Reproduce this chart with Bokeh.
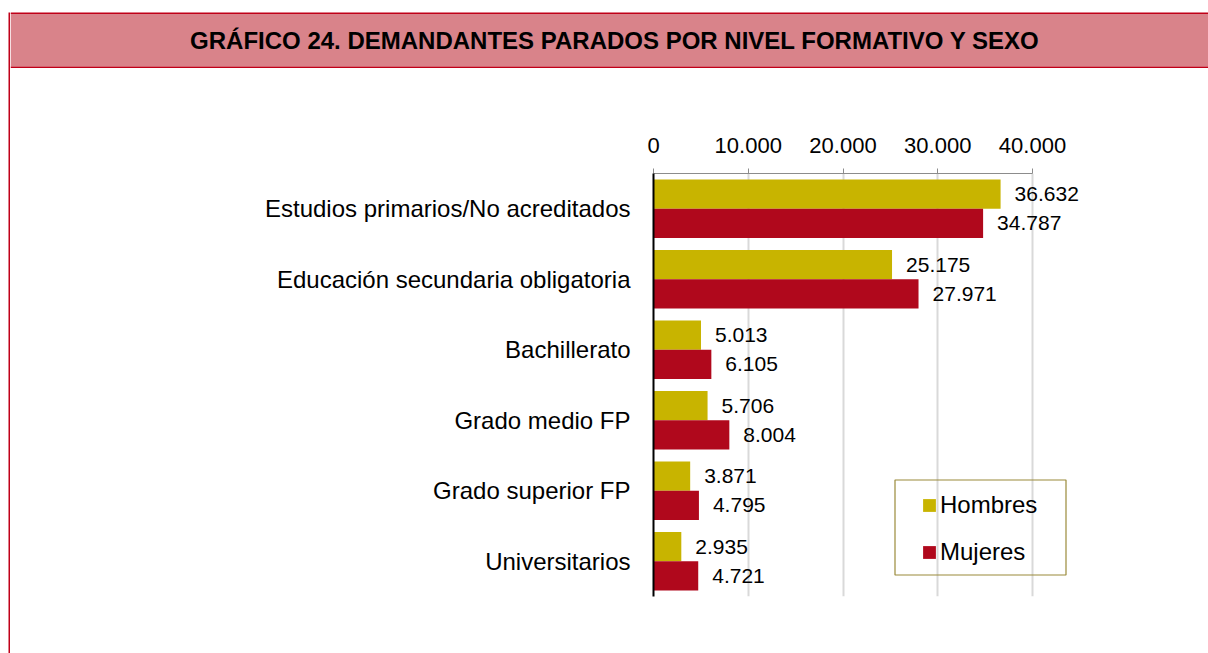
from bokeh.plotting import figure
from bokeh.layouts import column, row
from bokeh.models import (FactorRange, Range1d, FixedTicker, BoxAnnotation,
                          Legend, LegendItem, ColumnDataSource)
from bokeh.transform import dodge
from bokeh.embed import file_html
from bokeh.resources import INLINE
from bokeh.core.properties import value

TITLE = "GRÁFICO 24. DEMANDANTES PARADOS POR NIVEL FORMATIVO Y SEXO"
categories = ["Estudios primarios/No acreditados", "Educación secundaria obligatoria",
              "Bachillerato", "Grado medio FP", "Grado superior FP", "Universitarios"]
hombres = [36632, 25175, 5013, 5706, 3871, 2935]
mujeres = [34787, 27971, 6105, 8004, 4795, 4721]
series_names = ["Hombres", "Mujeres"]
x_ticks = [0, 10000, 20000, 30000, 40000]
x_tick_labels = ["0", "10.000", "20.000", "30.000", "40.000"]

YELLOW = "#c8b400"
RED = "#b0081c"
BAND = "#d9838a"
BORDER = "#c00018"
FONT = "Liberation Sans"

PAGE_W, PAGE_H = 1208, 653
STRIP_W = 10                   # white gap (8) + red border (2)
TITLE_H = 68
CHART_H = PAGE_H - TITLE_H
CHART_W = PAGE_W - STRIP_W
X0 = STRIP_W                   # page x of title / chart figures
Y0 = TITLE_H                   # page y of chart figure

frame_left = 653 - X0
frame_top = 173 - Y0
frame_bottom = 596 - Y0


def fmt(v):
    return f"{v:,}".replace(",", ".")


def bare(w, h, xr, yr):
    f = figure(width=w, height=h, x_range=xr, y_range=yr, min_border=0,
               x_axis_location=None, y_axis_location=None,
               output_backend="svg", toolbar_location=None)
    f.outline_line_color = None
    f.grid.visible = False
    return f


# ---------------- left strip (frame border) ----------------
s = bare(STRIP_W, PAGE_H, Range1d(0, STRIP_W), Range1d(PAGE_H, 0))
s.quad(left=8, right=10, top=12, bottom=PAGE_H, fill_color=BORDER, line_color=None)

# ---------------- title band ----------------
t = bare(CHART_W, TITLE_H, Range1d(0, CHART_W), Range1d(TITLE_H, 0))
t.quad(left=0, right=CHART_W, top=13, bottom=66, fill_color=BAND, line_color=None)
t.quad(left=0, right=CHART_W, top=12, bottom=13.5, fill_color=BORDER, line_color=None)
t.quad(left=0, right=CHART_W, top=66, bottom=68, fill_color=BORDER, line_color=None)
t.text(x=[614.5 - X0], y=[40.3], text=[TITLE], text_align="center", text_baseline="middle",
       text_font=value(FONT), text_font_style="bold", text_font_size="24px",
       text_color="#000000")

# ---------------- chart ----------------
src = ColumnDataSource(dict(cat=categories, h=hombres, m=mujeres,
                            hl=[fmt(v) for v in hombres], ml=[fmt(v) for v in mujeres]))

px_per_unit = (1032 - 653) / 40000.0
x_end = (CHART_W - frame_left) / px_per_unit

p = figure(width=CHART_W, height=CHART_H,
           y_range=FactorRange(factors=categories[::-1]),
           x_range=Range1d(0, x_end), x_axis_location="above",
           output_backend="svg", toolbar_location=None,
           min_border_left=frame_left, min_border_right=0,
           min_border_top=frame_top, min_border_bottom=CHART_H - frame_bottom)
p.outline_line_color = None
p.background_fill_color = "white"
p.border_fill_color = "white"

off = 0.207
bh = 0.415
r1 = p.hbar(y=dodge("cat", off, range=p.y_range), left=0, right="h", height=bh,
            source=src, fill_color=YELLOW, line_color=None)
r2 = p.hbar(y=dodge("cat", -off, range=p.y_range), left=0, right="m", height=bh,
            source=src, fill_color=RED, line_color=None)

p.text(x="h", y=dodge("cat", off, range=p.y_range), text="hl", source=src,
       x_offset=14, text_baseline="middle", text_align="left",
       text_font=value(FONT), text_font_size="21px", text_color="#000000")
p.text(x="m", y=dodge("cat", -off, range=p.y_range), text="ml", source=src,
       x_offset=14, text_baseline="middle", text_align="left",
       text_font=value(FONT), text_font_size="21px", text_color="#000000")

xa = p.xaxis[0]
xa.ticker = FixedTicker(ticks=x_ticks)
xa.bounds = (x_ticks[0], x_ticks[-1])
xa.major_label_overrides = {tk: lb for tk, lb in zip(x_ticks, x_tick_labels)}
xa.axis_line_color = "#8c8c8c"
xa.major_tick_line_color = "#8c8c8c"
xa.major_tick_out = 5
xa.major_tick_in = 0
xa.minor_tick_line_color = None
xa.major_label_text_font = FONT
xa.major_label_text_font_size = "22px"
xa.major_label_text_color = "#000000"
xa.major_label_standoff = 16

ya = p.yaxis[0]
ya.axis_line_color = "black"
ya.axis_line_width = 2
ya.major_tick_line_color = None
ya.minor_tick_line_color = None
ya.major_label_text_font = FONT
ya.major_label_text_font_size = "24px"
ya.major_label_text_color = "#000000"
ya.major_label_standoff = 17

p.xgrid.ticker = FixedTicker(ticks=x_ticks)
p.xgrid.grid_line_color = "#d9d9d9"
p.xgrid.grid_line_width = 2
p.ygrid.grid_line_color = None

legend = Legend(items=[LegendItem(label=series_names[0], renderers=[r1]),
                       LegendItem(label=series_names[1], renderers=[r2])],
                location=(268, 30), glyph_width=16, glyph_height=16,
                label_standoff=3, spacing=19, padding=0, margin=0,
                border_line_alpha=0, background_fill_alpha=0,
                label_text_font=FONT, label_text_font_size="24px",
                label_text_color="#000000")
p.add_layout(legend)

p.add_layout(BoxAnnotation(left=894.5 - X0, right=1065.5 - X0, top=479.5 - Y0, bottom=574.5 - Y0,
                           left_units="canvas", right_units="canvas",
                           top_units="canvas", bottom_units="canvas",
                           fill_alpha=0, line_color="#9a8a3a", line_alpha=1.0,
                           line_width=1.2, level="overlay"))

layout = row(s, column(t, row(p, spacing=0), spacing=0), spacing=0)

open("out.html", "w").write(file_html(layout, INLINE))
